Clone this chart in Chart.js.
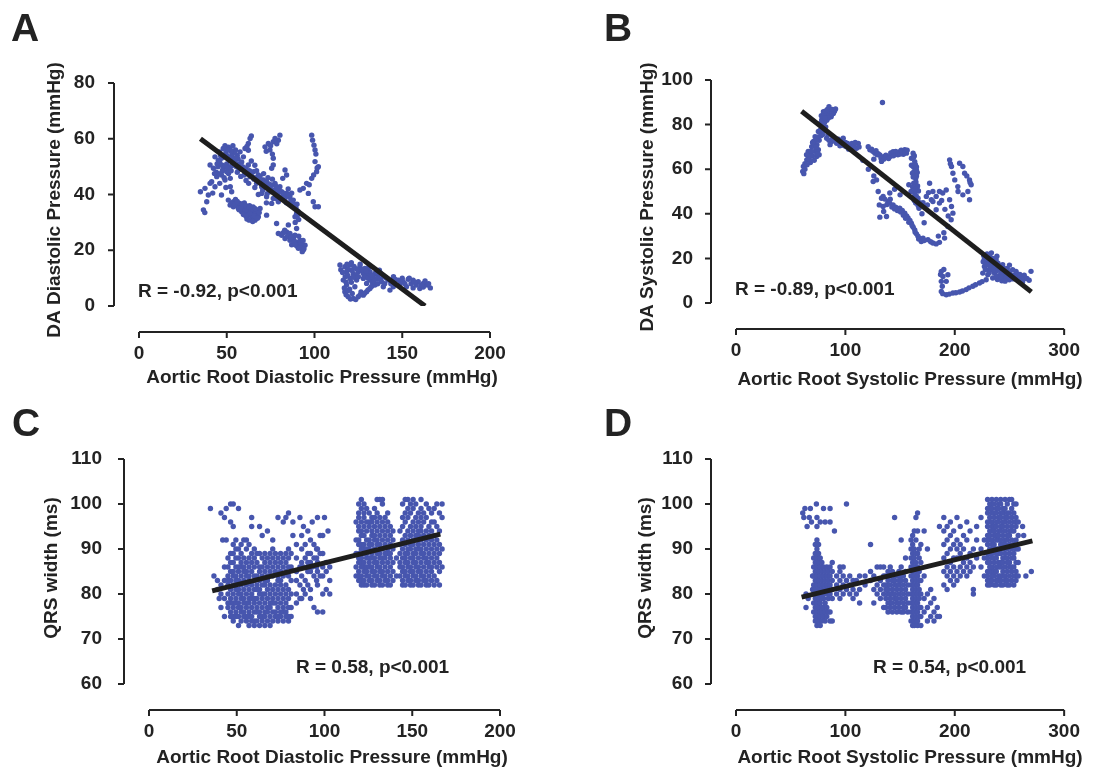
<!DOCTYPE html>
<html>
<head>
<meta charset="utf-8">
<title>DA pressure and QRS width vs aortic root pressure</title>
<script src="https://cdn.jsdelivr.net/npm/chart.js@4.4.0/dist/chart.umd.min.js"></script>
<style>
  body { margin: 0; background: #fff; }
  #wrap { position: relative; width: 1117px; height: 774px; overflow: hidden; }
  .panel { position: absolute; }
  .panel canvas { display: block; }
</style>
</head>
<body>
<div id="wrap">
  <div class="panel" style="left:0;top:0"><canvas id="chartA" width="558" height="398"></canvas></div>
  <div class="panel" style="left:558px;top:0"><canvas id="chartB" width="558" height="398"></canvas></div>
  <div class="panel" style="left:0;top:387px"><canvas id="chartC" width="558" height="387"></canvas></div>
  <div class="panel" style="left:558px;top:387px"><canvas id="chartD" width="558" height="387"></canvas></div>
</div>
<script>
// axis ticks
const xTicksDia = [0, 50, 100, 150, 200];
const xTicksSys = [0, 100, 200, 300];
const yTicksA = [0, 20, 40, 60, 80];
const yTicksB = [0, 20, 40, 60, 80, 100];
const yTicksQRS = [60, 70, 80, 90, 100, 110];

// A: aortic root diastolic vs DA diastolic pressure (mmHg)
const ptsA = [
  [48,56.5],[51,57],[52,56],[46,55.3],[43.3,53.5],[45.2,52.3],[47,53],[40.5,50.6],[42.4,49.4],[48,49.4],
  [50,48.2],[47,47],[52,45.8],[44.3,46.4],[41.4,44.6],[49,45.2],[53,54.5],[54,52],[50,51],[45,50],
  [44,48],[46,44],[49.5,42.5],[51,53.5],[55,56],[53.5,57.5],[49.5,55],[52,50],
  [44.5,51],[46,51.5],[47.5,50.5],[49,50],[50.5,49.5],[51,47.5],[48.5,46],[47.5,48.5],[45.5,47.5],[43,47.5],
  [52.5,48.5],[53.5,50.5],[55,52.5],[56,54],[54.5,55],[52.5,55.5],[50,54],[48.5,53.5],[46.5,54],[50.5,56],
  [49,57.5],[53,53],[55.5,50],[57,51],[56.5,52.7],
  [35,41],[37.6,42.2],[39.5,39.8],[40.5,44],[43.3,42.8],[38.6,37.4],[36.7,34.5],[37.5,33.5],[47,39.8],[52,42.8],[52.8,41],[42,40.5],
  [57.6,55.3],[59.5,53.5],[62.3,55.9],[58.5,51.7],[62.3,50.6],[65.2,48.2],[68,47],[70.9,45.2],[72.7,44.6],[75.6,43.4],
  [77.5,44],[78.4,42.2],[80.3,42.8],[81.3,41],[82.2,39.8],[84.1,40.4],[86,39.2],[87.9,38],[86,36.8],[88.9,35.6],
  [89.8,33.2],[88.9,32],[55.7,50.6],[54.7,53],[60.4,48.8],[63.3,46.4],[67,44],[69.9,42.8],[74.6,41],[69.9,40.4],
  [72.7,39.2],[76.5,38.6],[79.4,37.4],[75.6,36.8],[64,52],[66,50.5],[61,45],[56,48],[58,46.5],[67,48.5],
  [71,47.5],[73.5,46],[76,45.5],[79,40],[83,38],[85,42],[87,40.5],[90,36.5],[91,31],[89,30],[84,37],
  [59,50],[61,49.5],[63,48.5],[64,47],[66,46],[68,45.5],[70,44],[71.5,43.5],[73,42.5],[75,42],
  [77,41.5],[78,43],[79.5,41.5],[81,39],[82.5,40.5],[83.5,39],[85,40],[86.5,38],[88,36.5],[87,37.5],
  [89.5,35],[90.5,34],[91,33],[90,32],[80,39],[70.5,41.5],[73,40.3],[66,42.5],[62.5,44],[60,47],
  [57,49],[65.5,45.5],[69,46.5],[74,43.8],[78.5,38.5],
  [63.3,60.1],[62.3,58.3],[60.4,56.5],[64,61],[61.5,57.2],
  [80.3,61.3],[79.4,59.5],[76.5,58.9],[73.7,58.3],[71.8,57.1],[74.6,56],[77.5,60.1],[78.5,58.2],[75,57.5],[72.5,55.5],
  [76.5,53],[76.5,50.6],[75.6,49.4],[83.2,48.8],[84.1,47],[81.9,45.8],[76,54.5],
  [98.4,61.3],[98.9,59.5],[99.7,57.7],[100.3,56],[100.8,54.5],[100.3,51.8],[102.2,50],[101.2,48.2],[98.4,45.8],[95.5,44],
  [93.6,42.2],[91.7,41.6],[96.5,40.4],[99.3,37.4],[100.3,35.6],[102.2,35.6],[97,43.5],[101.5,49.5],[99.5,47],
  [50.9,38],[53.8,37.4],[55.7,36.2],[57.5,36.8],[59.5,35.6],[61.4,35],[63.3,34.4],[65.2,33.8],[67,33.2],[62.3,32.6],
  [64.2,31.4],[66.1,30.8],[68,32],[58.5,33.8],[56.6,35],[53.8,35.6],[51.9,36.2],[60.4,33.2],[69,35],[63,36],
  [60,37],[65,35.5],[67.5,34.5],[62,34],[57,34.5],[55,38.2],[61.5,31.2],[64,32.8],
  [52.5,36.8],[54.5,36.5],[56,37.5],[58,35.2],[59,36.5],[60.5,34.4],[61,36],[62.5,35.5],[64,34.6],[65.5,32.5],
  [66.5,34],[67.5,31.5],[63,33.2],[59.5,32.8],[61,32.2],[62.8,30.8],[64.8,30.3],[68.5,33.5],[66,35],
  [72.7,32.6],[78.4,29.6],[72.6,37],[68,40],
  [79.4,26],[81.3,25.4],[84.1,26.6],[86,26],[83.2,24.2],[88,24.2],[89.8,23],[91.7,22.4],[92.7,21.2],[93.6,20.1],
  [90.8,20.7],[94.6,21.8],[86,23.6],[88.9,25.4],[85.1,29.1],[89.8,27.8],[92,23.5],[93,19.5],[87,22],[91,25],
  [82,26.2],[84.5,25],[87,25],[88.5,23],[90,21.5],[91.5,21],[92.5,22.5],[94,20.5],[89,22],[86.5,24.5],[83,27.2],[93.5,23.5],
  [114.5,14.7],[117.3,14.1],[120.2,14.7],[123,13.5],[125.9,14.1],[128.7,13.5],[118.3,12.3],[122.1,11.7],[124.9,12.3],[127.8,11.7],
  [131.6,12.3],[134.4,11.7],[136.3,11.1],[120.2,9.9],[124,9.3],[127.8,9.9],[131.6,9.3],[135.4,9.9],[139.2,10.5],[116.4,9.3],
  [118.3,7.5],[117.3,5.1],[119.2,3.3],[122.1,2.7],[124.9,3.3],[127.8,3.9],[129.7,5.1],[131.6,6.3],[134.4,7.5],[123,6.9],
  [129.7,8.1],[138.2,8.7],[142,9.3],[144.9,8.7],[147.7,9.3],[150.5,8.7],[153.4,9.6],[156.2,9.3],[159.1,8.7],[162,8.1],
  [164.2,7.5],[166,6.5],[144.9,6.9],[148.6,7.5],[152.4,6.9],[156.2,6.5],[160,6.3],[143,5.7],[139.2,6.9],[121,15.5],
  [126,15],[130,13],[133,10.5],[137,12.8],[121.5,4.5],[126.5,5],[120,6],[115,13],[133,8.5],[140,8],
  [145,10.5],[150,10],[155,8],[158,7.5],[162,6.8],[130,11],
  [116,12],[117.5,10.5],[119,11],[121,12.8],[123.5,11],[125,10.5],[126.5,12.8],[128.5,10.5],[130.5,10],[132.5,11],
  [134,9],[136,8],[137.5,9.5],[119,13.2],[122.5,14.2],[124.5,13.2],[127,13],[129.5,12.5],[131,14],[135.5,12],
  [138,11.5],[141,10],[143.5,8],[146,9.5],[149,8.5],[151.5,8],[154,10],[157,8.5],[161,7.5],[163,9],
  [165,8],[118,8.5],[117,6.5],[118,4],[120.5,2.5],[123.5,2.3],[126,4],[128.5,4.5],[130.5,5.8],[132.5,7],
  [119,5.5],[121,8.5],[122,10.3],[118.5,15]
];
const fitA = [[35, 60], [163, 0]];

// B: aortic root systolic vs DA systolic pressure (mmHg)
const ptsB = [
  [79.9,85.8],[85.9,86.6],[89,85],[82.9,83.6],[78.3,82.1],[79.9,79.1],[75.3,76.9],[72.3,74.6],[70.8,72.4],[69.2,70.1],
  [67.7,67.9],[66.2,65.7],[64.7,64.2],[61.6,61.2],[61,59],[73.8,65.7],[75.3,68.7],[84,85],[87,83.5],[81,81],
  [77,80.5],[83,82],[86,84],[90,86],[82,79],[80,77],[76,73],[74,71],[72,68],[70,66],[68,63],[63,62.5],[66,68],
  [78,84],[80.5,84.5],[81.5,86],[83.5,86.8],[85,88],[88,86.8],[91,87],[87.5,84.5],[84.5,83],[81.5,83],
  [80,80.5],[78.5,78],[77,77.5],[81,78.5],[79,75.5],[77.5,75],[75,74.5],[73,73],[71,70.5],[69,68],
  [68.5,66],[67,64.5],[65,62],[63,60],[62,58],[64.5,66.5],[70,72],[73,70],[71.5,64],[76,66.5],[74.5,67],
  [82.9,73.9],[87.5,72.4],[92,71.6],[96.6,72.4],[101,70.1],[104.2,70.9],[107.2,70.1],[111.8,71.6],[110.2,69.4],[98,73.9],
  [93.6,73.4],[89,74.5],[95,70.5],[100,72],[103,69],[106,71.5],[84,75.5],[86,71],
  [85,73],[88,73.5],[90.5,72.8],[94,72],[97,71],[99,70.5],[102,71.5],[105,69.5],[108,70.5],[109,72],[112.5,70],
  [122.4,68.7],[127,67.2],[131.5,66.4],[136,65.7],[140.6,65.7],[145.2,66.9],[149.7,67.9],[154.3,68.7],[155.8,67.2],[143.6,67.9],
  [120.9,70.1],[125,68],[129,66.5],[134,65.5],[138,65.2],[142,66],[147,67.5],[151,68.5],[153,66.7],[126,64.5],[133,63.5],
  [124,69],[128,68.3],[130,67],[132.5,65],[135,64.5],[137,66.3],[139.5,64.8],[141.5,67.3],[144,66],[146,68],
  [148,66.5],[150,66.8],[152,67.8],[154.5,67.5],[156.5,68.5],
  [133.9,89.9],
  [116,64],[121,60],[126,57],[128.5,55.2],[125.4,54.5],
  [161.9,67.2],[160.4,64.9],[163.4,63.4],[161.9,61.2],[164.9,59.7],[161.3,58.2],[164.3,55.9],[162.5,53.7],[165.5,51.4],[163.4,49.3],
  [166.4,47],[164.3,44.8],[167.3,42.5],[160.4,61.8],[165,57],[163,66],[166,52.5],[162,56.5],[165,61],[163,46],[168,45],[160,50],[158,53],
  [162.5,65.5],[164,62],[162.8,59],[165.7,58.5],[163.5,57],[164.5,54.3],[166.8,50.2],[164.8,48],[162.2,47.6],[165.5,45.7],
  [166.5,43.7],[161.5,52],[163.8,51],
  [134.5,47.8],[139,45.5],[143.6,44],[149.7,42.5],[154.3,40.3],[157.3,38.1],[160.3,35.8],[163.4,32.8],[166.4,29.9],[169.4,27.6],
  [137.6,38.8],[134.5,43.3],[141,46.5],[146,43],[152,41.5],[156,39],[159,37],[162,34],[165,31],[168,29],
  [136,46.6],[138,44.2],[140.5,44.8],[142.5,43],[145,42.2],[147.5,41.5],[150.5,40.8],[153,39.3],[155,38],[158,36.2],
  [161,34.8],[163.8,31.7],[167,28.7],[170,28.3],
  [171,29.1],[175.5,28.4],[180,26.9],[186,27.2],[190.7,29.1],[178,27.5],[183,26.5],[172,28],
  [177,53.7],[180,50],[183,47.8],[186,50],[189,49.3],[192.2,50.7],[195.3,46.3],[197,43.3],[198.3,40.3],[196.7,37.3],
  [193.7,34.3],[186,44.8],[183,41.8],[178.6,46.3],[174,47.8],[171,45],[170,40],[172,36],[175,44],[180,45.5],
  [176,49.5],[188,46],[191,42],[194,39],[190,31.5],[185,30],
  [195.3,64.2],[197,61.2],[198.3,58.2],[200,55.2],[204.4,62.7],[207.4,61.2],[209,58.2],[213.5,55.2],[215,53],[212,50],
  [207.4,48.5],[202.8,52.2],[213.5,46.3],[196,62.5],[214,54],[211,57],[203,50],
  [140.6,49.3],[145,51],[150,48.5],[133,47],[131,44],[130,50],[135,41],[131.5,38.5],
  [187.7,14.2],[189.2,11.9],[187.7,9.7],[188.6,7.5],[187.7,5.2],[193.7,12.7],[192.2,9.7],[192.2,3.7],[198.3,4.5],[204.4,4.9],
  [210.4,6],[216.5,7.5],[222.6,9],[228.7,10.4],[189,4.2],[195,4],[201,4.6],[207,5.4],[213,6.8],[219,8.2],[225,9.6],[187,12.8],[190,15],
  [228.7,19.4],[233.2,17.9],[237.8,16.4],[242.3,14.9],[246.9,13.4],[251.4,11.9],[231.7,14.9],[236.3,13.4],[240.8,11.9],[245.4,11.2],
  [249.9,10.4],[227.1,16.4],[234.7,11.2],[256,14.2],[260.5,11.9],[269.7,14.2],[228.7,20.9],[237.8,19.4],[243.8,17.2],[252.9,14.9],
  [225.6,13.4],[230.2,12.7],[232,21],[235,20],[230,18],[240,15],[244,13],[248,15.5],[254,12.5],[258,10.5],
  [262,9.5],[264,11],[239,10.5],[243,10],[232,16.5],[226,18.5],[250,17],[236,17.5],[247,11.5],
  [227,19.5],[229,17.3],[231,19.8],[233,15.8],[234,18.8],[236,15.6],[238,14.2],[239.5,17.8],[241.5,16.5],[242,13],
  [245,15.5],[246,14.5],[248,12.8],[250,13.8],[252,12.2],[253.5,10.8],[256,11.3],[257,13],[259.5,12.8],[261,10.7],
  [263.5,12.5],[266,11],[268,10.2],[246,9.8],[242,11.8],[238,12],[235,14.8],[231.5,13.6],[228,15],[229.5,22],
  [233.5,22.5],[238.5,21],[226.5,21.2]
];
const fitB = [[60, 86], [270, 5]];

// C: aortic root diastolic vs QRS width (ms); QRS comes in whole ms, so listed per column [x, [y...]]
const colsC = [
  [35,[99]],[37,[84]],[39,[81,83]],[40,[79]],[41,[77,80,82,98]],[42,[92]],[43,[75,79,83,86,97]],[44,[92,99]],
  [45,[77,78,80,82,83,84,86,88]],[46.5,[75,76,78,79,81,83,85,87,89,96,100]],[48,[74,75,77,78,80,82,84,85,87,89,91,95,100]],
  [49.5,[75,76,78,79,81,83,84,86,88,90,92]],[51,[73,75,77,78,80,81,83,85,86,88,90,99]],[52.5,[74,76,77,79,80,82,84,86,87,89,91]],
  [54,[75,76,78,79,81,83,85,86,88,92]],[55.5,[74,75,77,78,80,82,84,85,87,90,92]],[57,[73,75,76,78,79,81,83,84,86,88,91]],
  [58.5,[74,75,77,79,80,82,85,87,89,95,97]],[60,[73,74,76,78,79,81,83,84,86,88,90]],[61.5,[74,76,77,79,81,82,84,87,89]],
  [63,[73,75,76,78,80,81,83,85,86,89,95]],[64.5,[74,75,77,79,80,82,84,86,88,93]],[66,[73,75,76,78,80,82,83,85,87,89]],
  [67.5,[74,76,77,79,81,83,84,86,88,94]],[69,[73,75,77,78,80,82,85,87,89]],[70.5,[74,76,78,79,81,84,86,88,90,92]],
  [72,[75,76,78,80,82,85,87,89]],[73.5,[74,75,77,79,81,83,84,86,88,97]],[75,[75,76,78,80,82,83,85,87,89]],
  [76.5,[74,76,77,79,81,84,86,88,96]],[78,[75,76,78,80,82,85,87,89,97]],[79.5,[74,75,77,79,81,84,86,88,90,98]],
  [81,[75,77,80,83,86,89]],[82,[93,96]],[84,[78,80,83,85,88,91]],[86,[79,82,86,97]],[87,[79,84,87,90,93]],
  [88,[81,86,95]],[89,[80,83,88,91]],[90.5,[82,85,87,89,94]],[92,[79,81,85,87,89,92]],[93,[86,96]],
  [94,[77,84,88,91]],[95.5,[83,86,88,90]],[96,[76,82,85,87,90,97]],[97.5,[84,89,93]],[99,[76,80,84,86,89,93]],
  [100,[97]],[101,[81,85,87]],[102,[94]],[103,[80,83,86]],
  [118,[84,86,89,92,96]],[119.5,[83,84,85,87,88,89,91,92,94,95,97,98,100]],[121,[82,83,84,86,87,88,90,91,93,94,96,99,101]],
  [122.5,[82,83,85,86,87,89,90,91,93,95,97,98,100]],[124,[82,84,85,86,88,89,90,92,94,96,99]],
  [125.5,[83,84,86,87,88,90,91,92,95,96,98]],[127,[82,83,85,86,88,89,91,93,94,96,97]],
  [128.5,[82,84,85,87,88,90,92,93,95,97,99]],[130,[83,84,86,87,89,91,92,94,96,98,101]],
  [131.5,[82,83,85,86,88,89,91,93,95,97,101]],[133,[82,84,85,87,88,90,92,94,96,100,101]],
  [134.5,[83,84,86,88,89,91,93,95,97]],[136,[82,83,85,87,89,90,92,94,96,98]],[137.5,[82,84,86,88,89,91,93,95]],
  [139,[83,85,87,90,92,94]],[141,[84,88]],[143,[84,86,87,89,91,94]],
  [144.5,[82,83,85,86,88,90,92,95,97,100]],[146,[82,84,85,87,88,89,91,93,96,98,101]],
  [147.5,[83,84,86,87,89,90,92,94,97,99,101]],[149,[82,83,85,86,88,90,91,93,95,98,100]],
  [150.5,[82,84,85,87,88,89,91,92,94,96,99,101]],[152,[83,84,86,87,89,90,92,93,95,97,100]],
  [153.5,[82,83,85,86,88,90,91,93,94,96,98]],[155,[82,84,85,87,89,90,92,94,95,97,99,101]],
  [156.5,[83,84,86,88,89,91,93,96,98]],[158,[82,83,85,87,88,90,92,94,97,100]],
  [159.5,[82,84,86,87,89,91,93,95,99]],[161,[83,85,86,88,90,92,94,96,98]],[162.5,[82,84,87,89,91,93,96,99]],
  [164,[83,86,88,90,92,95,100]],[165.5,[82,85,87,89,91,94,98]],[167,[86,90,97,100]]
];
const fitC = [[36, 80.7], [166, 93.3]];

// D: aortic root systolic vs QRS width (ms)
const colsD = [
  [61,[98]],[62,[97]],[63,[99]],[64,[77,80]],[65,[95]],[66,[79]],[67,[97]],[68,[99]],[69,[96]],[70,[81,84]],
  [71,[76,78,80,82,84,86,88]],[72.5,[74,75,77,79,81,83,85,87,89,91]],[73.5,[100]],
  [74,[73,74,76,78,80,82,83,84,86,88,90,92,95,97]],[75.5,[74,75,77,79,80,81,83,85,87,89,91]],
  [77,[73,75,76,78,80,82,84,86,88,96]],[78.5,[74,76,77,79,81,83,85,87]],[80,[75,77,79,80,82,84,86,99]],
  [81.5,[74,76,78,81,83,85,96]],[83,[75,77,80,82,84,86]],[84.5,[76,79,81,83,85]],[86,[74,76,80,82,84,86,96,99]],
  [88,[74,79,81,83,85,87]],[90,[94]],[92,[80,82,84]],[95,[79,81,83,85,86]],[98,[80,82,84,86]],[101,[81,83,100]],
  [104,[80,82,84]],[107,[79,81,83]],[110,[80,83]],[113,[78,81,84]],[118,[82,84]],[123,[83,85,91]],[126,[78,81,84]],
  [129,[80,82,86]],[132,[79,81,83,86]],[135,[77,80,82,84,86]],
  [137,[77,79,81,82,84]],[139,[76,78,80,81,83,85]],[141,[77,78,79,80,82,84,86]],[143,[76,78,80,81,83,85]],
  [145,[77,79,80,82,83,84,97]],[147,[76,78,79,81,82,84]],[149,[77,78,80,82,83,85]],[151,[76,79,81,83,84,86,92]],
  [153,[76,77,78,80,82,84]],[155,[77,79,81,83,85,88]],[157,[76,78,80,82]],
  [160,[74,76,78,80,82,84,86,88,90,92]],[161.5,[73,75,77,79,81,83,85,87,89,91,93]],
  [163,[73,74,76,78,80,82,84,86,88,90,94]],[164.5,[74,75,77,79,81,83,85,87,89,92,97]],
  [166,[73,74,76,78,80,82,84,86,89,94,98]],[167.5,[75,77,79,81,83,85,88,90]],[169,[73,75,77,80,83,87,91]],
  [172,[76,79,84,94]],[175,[74,77,80,90]],[178,[75,78,81]],[181,[74,76,79]],[184,[75,77]],[186,[75,95]],
  [190,[82,85,88,91,94,97]],[193,[81,84,86,89,92,95]],[196,[83,85,87,90,93,96]],[199,[82,84,86,88,91,94]],
  [202,[83,85,88,90,92,97]],[205,[84,86,89,91,95]],[208,[85,87,90,93]],[211,[84,86,88,92,96]],
  [214,[85,87,89,94]],[217,[80,81,86,90]],[220,[88,92,95]],[224,[86,90,97]],[227,[84,88,92]],
  [230,[82,83,84,85,87,88,89,91,92,93,95,96,98,99,101]],[232,[82,83,85,86,87,89,90,92,93,94,96,97,99,100]],
  [234,[83,84,85,86,88,89,91,92,94,95,96,98,99,101]],[236,[82,84,85,87,88,90,91,93,94,95,97,98,100]],
  [238,[82,83,85,86,88,89,90,92,93,95,96,98,99,101]],[240,[83,84,86,87,89,90,92,93,94,96,97,99,100]],
  [242,[82,83,84,86,87,89,91,92,94,95,97,98,100,101]],[244,[82,84,85,87,88,90,91,93,95,96,98,99]],
  [246,[83,84,86,88,89,91,92,94,96,97,99,101]],[248,[82,83,85,87,88,90,92,93,95,97,98,100]],
  [250,[82,84,86,87,89,91,93,94,96,98,101]],[252,[83,85,86,88,90,92,94,95,97,99,101]],
  [254,[82,84,86,88,89,91,94,96,98,100]],[256,[83,85,87,90,92,95,97,100]],[258,[84,87,90,93,96]],
  [262,[95]],[263,[93]],[265,[84]],[270,[85]]
];
const fitD = [[60, 79.3], [271, 91.8]];

const INK = '#232323';
const DOT = '#4756ae';
const FONT = '"Liberation Sans", Arial, Helvetica, sans-serif';
const W = 558;

Chart.defaults.font.family = FONT;

const fromPairs = arr => arr.map(([x, y]) => ({x, y}));
const fromCols = cols => cols.flatMap(([x, ys]) => ys.map(y => ({x, y})));

// axes drawn detached from the plot (offset left/below), plus panel letter, titles and R text
function decor(p) {
  return {
    id: 'decor',
    afterDraw(chart) {
      const {ctx, chartArea: a, scales: {x, y}} = chart;
      const ax = a.left - 25, ay = a.bottom + 26;
      ctx.save();
      ctx.strokeStyle = INK;
      ctx.lineWidth = 2;
      ctx.beginPath();
      ctx.moveTo(ax, y.getPixelForValue(y.max));
      ctx.lineTo(ax, y.getPixelForValue(y.min));
      y.ticks.forEach(t => {
        const py = y.getPixelForValue(t.value);
        ctx.moveTo(ax - 6, py); ctx.lineTo(ax, py);
      });
      ctx.moveTo(x.getPixelForValue(x.min), ay);
      ctx.lineTo(x.getPixelForValue(x.max), ay);
      x.ticks.forEach(t => {
        const px = x.getPixelForValue(t.value);
        ctx.moveTo(px, ay); ctx.lineTo(px, ay + 6);
      });
      ctx.stroke();

      ctx.fillStyle = INK;
      ctx.font = 'bold 39px ' + FONT;
      ctx.textAlign = 'left';
      ctx.textBaseline = 'alphabetic';
      ctx.fillText(p.letter, p.letterX, p.letterY);

      ctx.font = 'bold 19px ' + FONT;
      ctx.fillText(p.rText, p.rX, p.rY);

      ctx.textAlign = 'center';
      ctx.fillText(p.xTitle, p.xTitleX, p.xTitleY);

      ctx.translate(p.yTitleX, p.yTitleY);
      ctx.rotate(-Math.PI / 2);
      ctx.textBaseline = 'middle';
      ctx.fillText(p.yTitle, 0, 0);
      ctx.restore();
    }
  };
}

function panel(id, p) {
  const canvas = document.getElementById(id);
  const H = canvas.height;
  const a = p.area;
  const tickFont = {size: 19, weight: 'bold'};
  new Chart(canvas, {
    type: 'scatter',
    data: {
      datasets: [
        {data: fromPairs(p.fit), showLine: true, borderColor: '#1e1e1e', borderWidth: 5, pointRadius: 0, order: 0},
        {data: p.points, backgroundColor: DOT, borderWidth: 0, pointRadius: 2.7, order: 1}
      ]
    },
    options: {
      responsive: false,
      animation: false,
      events: [],
      layout: {padding: {left: 0, top: a.top, right: W - a.right, bottom: 0}},
      plugins: {legend: {display: false}, tooltip: {enabled: false}},
      scales: {
        x: {
          type: 'linear',
          min: p.xTicks[0], max: p.xTicks[p.xTicks.length - 1],
          grid: {display: false, drawTicks: false},
          border: {display: false},
          ticks: {stepSize: p.xTicks[1] - p.xTicks[0], padding: 36, color: INK, font: tickFont, maxRotation: 0},
          afterFit: s => { s.height = H - a.bottom; }
        },
        y: {
          type: 'linear',
          min: p.yTicks[0], max: p.yTicks[p.yTicks.length - 1],
          grid: {display: false, drawTicks: false},
          border: {display: false},
          ticks: {stepSize: p.yTicks[1] - p.yTicks[0], padding: p.yPad, color: INK, font: tickFont},
          afterFit: s => { s.width = a.left; }
        }
      }
    },
    plugins: [decor(p)]
  });
}

panel('chartA', {
  area: {left: 139, right: 490, top: 83, bottom: 306},
  xTicks: xTicksDia, yTicks: yTicksA, yPad: 44,
  points: fromPairs(ptsA), fit: fitA,
  letter: 'A', letterX: 11, letterY: 41,
  rText: 'R = -0.92, p<0.001', rX: 138, rY: 297,
  xTitle: 'Aortic Root Diastolic Pressure (mmHg)', xTitleX: 322, xTitleY: 383,
  yTitle: 'DA Diastolic Pressure (mmHg)', yTitleX: 55, yTitleY: 200
});

panel('chartB', {
  area: {left: 178, right: 507, top: 80, bottom: 303},
  xTicks: xTicksSys, yTicks: yTicksB, yPad: 43,
  points: fromPairs(ptsB), fit: fitB,
  letter: 'B', letterX: 46, letterY: 41,
  rText: 'R = -0.89, p<0.001', rX: 177, rY: 295,
  xTitle: 'Aortic Root Systolic Pressure (mmHg)', xTitleX: 352, xTitleY: 385,
  yTitle: 'DA Systolic Pressure (mmHg)', yTitleX: 90, yTitleY: 197
});

panel('chartC', {
  area: {left: 149, right: 500, top: 72, bottom: 297},
  xTicks: xTicksDia, yTicks: yTicksQRS, yPad: 47,
  points: fromCols(colsC), fit: fitC,
  letter: 'C', letterX: 12, letterY: 49,
  rText: 'R = 0.58, p<0.001', rX: 296, rY: 286,
  xTitle: 'Aortic Root Diastolic Pressure (mmHg)', xTitleX: 332, xTitleY: 376,
  yTitle: 'QRS width (ms)', yTitleX: 52, yTitleY: 181
});

panel('chartD', {
  area: {left: 178, right: 507, top: 72, bottom: 297},
  xTicks: xTicksSys, yTicks: yTicksQRS, yPad: 43,
  points: fromCols(colsD), fit: fitD,
  letter: 'D', letterX: 46, letterY: 49,
  rText: 'R = 0.54, p<0.001', rX: 315, rY: 286,
  xTitle: 'Aortic Root Systolic Pressure (mmHg)', xTitleX: 352, xTitleY: 376,
  yTitle: 'QRS width (ms)', yTitleX: 88, yTitleY: 181
});
</script>
</body>
</html>
